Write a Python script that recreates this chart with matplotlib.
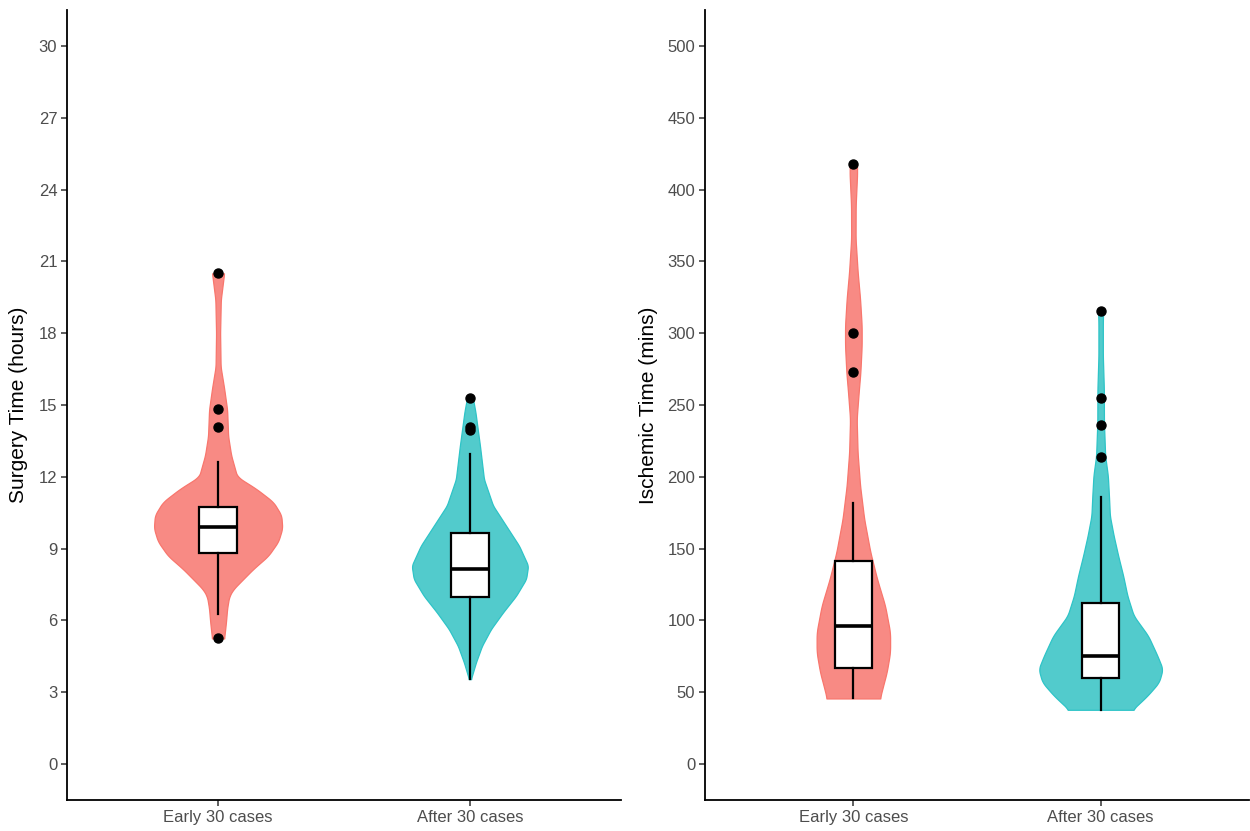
"""Violin + box plots: surgery time and ischemic time, early vs later cases."""
import matplotlib

matplotlib.use("Agg")
import matplotlib.pyplot as plt
import numpy as np

plt.rcParams["font.family"] = ["Liberation Sans", "DejaVu Sans"]

GROUPS = ["Early 30 cases", "After 30 cases"]
FILL = ["#F88A84", "#52CBCC"]
EDGE = ["#F8766D", "#2EC4C7"]

# --- violin outlines (value, relative density) ------------------------------
SURG_EARLY_Y = [5.25, 5.6, 6.0, 6.5, 7.0, 7.3, 7.6, 8.15, 8.7, 9.3, 9.85, 10.4,
                10.95, 11.5, 12.0, 12.9, 13.7, 14.8, 15.7, 16.6, 18.0, 19.4, 20.0, 20.5]
SURG_EARLY_D = [6, 7, 8, 9, 11, 15, 22, 35, 50, 60, 64, 63,
                55, 38, 19, 13, 10, 9, 6, 2.5, 2, 2.7, 4.5, 6]
SURG_AFTER_Y = [3.55, 4.25, 4.94, 5.64, 6.34, 7.03, 7.73, 8.29, 9.12, 9.96,
                10.8, 11.9, 13.3, 14.7, 15.28]
SURG_AFTER_D = [1, 6, 12, 21, 33, 46, 56, 58, 49, 36, 23, 14, 10, 5.5, 3]

ISCH_EARLY_Y = [45.7, 54.5, 63.9, 77.8, 91.7, 110.2, 128.8, 147.4, 170.6, 193.8, 217,
                240.3, 258.8, 272.8, 291.3, 305.2, 323.8, 342.4, 365.6, 388.8, 412, 418]
ISCH_EARLY_D = [26.5, 29.7, 33.3, 36.7, 36.7, 31.7, 23.7, 17, 10.8, 6.7, 4.2,
                3.3, 5.3, 7, 8.3, 8.3, 6.7, 4.3, 2.2, 2.3, 3.8, 3.5]
ISCH_AFTER_Y = [37.8, 47.6, 56.9, 66.2, 75.4, 89.3, 103.3, 117.2, 131.1, 145.1, 159,
                172.9, 186.8, 200.8, 214.7, 238, 261.1, 284.3, 307.6, 315.2]
ISCH_AFTER_D = [31.7, 46.7, 58.3, 62, 56.7, 47.5, 33, 26.7, 22.5, 17.5, 13,
                9.2, 8.3, 7.2, 4.5, 3.3, 3.2, 2.2, 2.2, 2.5]

# --- box statistics ---------------------------------------------------------
SURG_Q1 = [8.82, 6.99]
SURG_MED = [9.92, 8.16]
SURG_Q3 = [10.74, 9.66]
SURG_WLO = [6.27, 3.55]
SURG_WHI = [12.6, 12.97]
SURG_OUT = [[5.25, 14.1, 14.83, 20.5], [13.95, 14.1, 15.28]]

ISCH_Q1 = [66.6, 59.9]
ISCH_MED = [95.9, 75.4]
ISCH_Q3 = [141.1, 112.1]
ISCH_WLO = [45.7, 37.8]
ISCH_WHI = [181.5, 185.7]
ISCH_OUT = [[273.2, 299.9, 417.6], [214.0, 236.1, 255.1, 315.2]]

SURG_TICKS = [0, 3, 6, 9, 12, 15, 18, 21, 24, 27, 30]
ISCH_TICKS = [0, 50, 100, 150, 200, 250, 300, 350, 400, 450, 500]


def smooth_profile(ys, ds, n=300, k=7):
    grid = np.linspace(ys[0], ys[-1], n)
    w = np.interp(grid, ys, ds)
    kern = np.ones(k) / k
    pad = np.pad(w, k // 2, mode="edge")
    return grid, np.convolve(pad, kern, mode="valid")


def panel(ax, profiles, dmax, half, q1, med, q3, wlo, whi, out, ticks, ylim, ylabel):
    for i, (ys, ds) in enumerate(profiles):
        g, w = smooth_profile(ys, ds)
        hw = np.asarray(w) / dmax * half
        ax.fill_betweenx(g, i + 1 - hw, i + 1 + hw, facecolor=FILL[i],
                         edgecolor=EDGE[i], linewidth=0.9, zorder=1)
    stats = [dict(med=med[i], q1=q1[i], q3=q3[i], whislo=wlo[i], whishi=whi[i],
                  fliers=out[i]) for i in range(2)]
    ax.bxp(stats, positions=[1, 2], widths=0.15, patch_artist=True, showcaps=False,
           boxprops=dict(facecolor="white", edgecolor="black", linewidth=1.6),
           whiskerprops=dict(color="black", linewidth=1.6),
           medianprops=dict(color="black", linewidth=2.6),
           flierprops=dict(marker="o", markerfacecolor="black", markeredgecolor="black",
                           markersize=6.5),
           manage_ticks=False, zorder=3)
    ax.set_xlim(0.4, 2.6)
    ax.set_ylim(*ylim)
    ax.set_xticks([1, 2])
    ax.set_xticklabels(GROUPS)
    ax.set_yticks(ticks)
    ax.set_ylabel(ylabel, fontsize=15, color="black")
    for s in ("top", "right"):
        ax.spines[s].set_visible(False)
    for s in ("left", "bottom"):
        ax.spines[s].set_linewidth(1.3)
        ax.spines[s].set_color("black")
    ax.tick_params(axis="both", length=4, width=1.1, color="#333333",
                   labelcolor="#4D4D4D", labelsize=12, pad=3)


fig = plt.figure(figsize=(12.5, 8.31), dpi=100)
ax1 = fig.add_axes([67 / 1250, 31 / 831, 554 / 1250, 790 / 831])
ax2 = fig.add_axes([705 / 1250, 31 / 831, 544 / 1250, 790 / 831])

panel(ax1, [(SURG_EARLY_Y, SURG_EARLY_D), (SURG_AFTER_Y, SURG_AFTER_D)], 64, 0.255,
      SURG_Q1, SURG_MED, SURG_Q3, SURG_WLO, SURG_WHI, SURG_OUT, SURG_TICKS,
      (-1.5, 31.5), "Surgery Time (hours)")
panel(ax2, [(ISCH_EARLY_Y, ISCH_EARLY_D), (ISCH_AFTER_Y, ISCH_AFTER_D)], 62, 0.251,
      ISCH_Q1, ISCH_MED, ISCH_Q3, ISCH_WLO, ISCH_WHI, ISCH_OUT, ISCH_TICKS,
      (-25, 525), "Ischemic Time (mins)")
ax1.yaxis.set_label_coords(-0.07, 0.5)
ax2.yaxis.set_label_coords(-0.086, 0.5)

fig.savefig("out.png", dpi=100, facecolor="white")
